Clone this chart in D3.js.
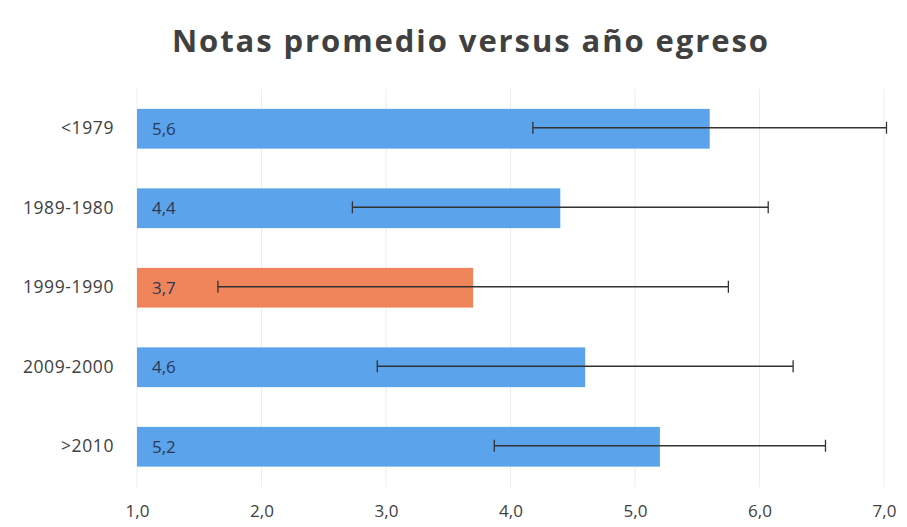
<!DOCTYPE html>
<html>
<head>
<meta charset="utf-8">
<script src="https://cdn.jsdelivr.net/npm/d3@7"></script>
<style>
  html, body { margin: 0; padding: 0; background: #fff; }
  svg { display: block; }
</style>
</head>
<body>
<svg id="chart" width="907" height="527"></svg>
<script>
const categories = ["<1979", "1989-1980", "1999-1990", "2009-2000", ">2010"];
const values = [5.6, 4.4, 3.7, 4.6, 5.2];
const errors = [1.42, 1.67, 2.05, 1.67, 1.33];
const highlighted = ["1999-1990"];
const tickValues = [1, 2, 3, 4, 5, 6, 7];
const title = "Notas promedio versus año egreso";

const svg = d3.select("#chart");
const fontFamily = "'Open Sans', 'DejaVu Sans', sans-serif";

const x = d3.scaleLinear().domain([1, 7]).range([137, 884]);
const y = d3.scaleBand().domain(categories).range([89, 486.5])
  .paddingInner(0.5).paddingOuter(0.25);

const fmt = v => d3.format(".1f")(v).replace(".", ",");

// title
svg.append("text")
  .attr("x", 470).attr("y", 52)
  .attr("text-anchor", "middle")
  .attr("font-family", fontFamily)
  .attr("font-weight", "bold")
  .attr("font-size", 31)
  .attr("textLength", 596)
  .attr("lengthAdjust", "spacing")
  .attr("fill", "#404040")
  .text(title);

// gridlines
svg.append("g").selectAll("line").data(tickValues).join("line")
  .attr("x1", d => x(d)).attr("x2", d => x(d))
  .attr("y1", 89).attr("y2", 487)
  .attr("stroke", "#ececec").attr("stroke-width", 1);

// x axis
const xAxis = d3.axisBottom(x).tickValues(tickValues).tickFormat(fmt).tickSize(0).tickPadding(0);
const gx = svg.append("g").attr("transform", "translate(0,505)").call(xAxis);
gx.select(".domain").remove();
gx.selectAll("text")
  .attr("font-family", fontFamily).attr("font-size", 17)
  .attr("fill", "#404040").attr("dy", "0.71em");

// y axis
const yAxis = d3.axisLeft(y).tickSize(0).tickPadding(0);
const gy = svg.append("g").attr("transform", "translate(114,0)").call(yAxis);
gy.select(".domain").remove();
gy.selectAll("text")
  .attr("font-family", fontFamily).attr("font-size", 17.5)
  .attr("letter-spacing", "0.6px")
  .attr("fill", "#404040");

// bars
svg.append("g").selectAll("rect").data(categories).join("rect")
  .attr("x", x(1))
  .attr("y", d => y(d))
  .attr("width", (d, i) => x(values[i]) - x(1))
  .attr("height", y.bandwidth())
  .attr("fill", d => highlighted.includes(d) ? "#f0845a" : "#5ba3ea");

// value labels
svg.append("g").selectAll("text").data(categories).join("text")
  .attr("x", x(1) + 15)
  .attr("y", d => y(d) + y.bandwidth() / 2)
  .attr("dy", "0.35em")
  .attr("font-family", fontFamily).attr("font-size", 17)
  .attr("fill", "#2b3956")
  .text((d, i) => fmt(values[i]));

// error bars
const eb = svg.append("g").attr("stroke", "#333").attr("stroke-width", 1.3);
categories.forEach((c, i) => {
  const cy = y(c) + y.bandwidth() / 2 - 1;
  const lo = x(values[i] - errors[i]);
  const hi = x(values[i] + errors[i]);
  eb.append("line").attr("x1", lo).attr("x2", hi).attr("y1", cy).attr("y2", cy);
  eb.append("line").attr("x1", lo).attr("x2", lo).attr("y1", cy - 6).attr("y2", cy + 6);
  eb.append("line").attr("x1", hi).attr("x2", hi).attr("y1", cy - 6).attr("y2", cy + 6);
});
</script>
</body>
</html>
